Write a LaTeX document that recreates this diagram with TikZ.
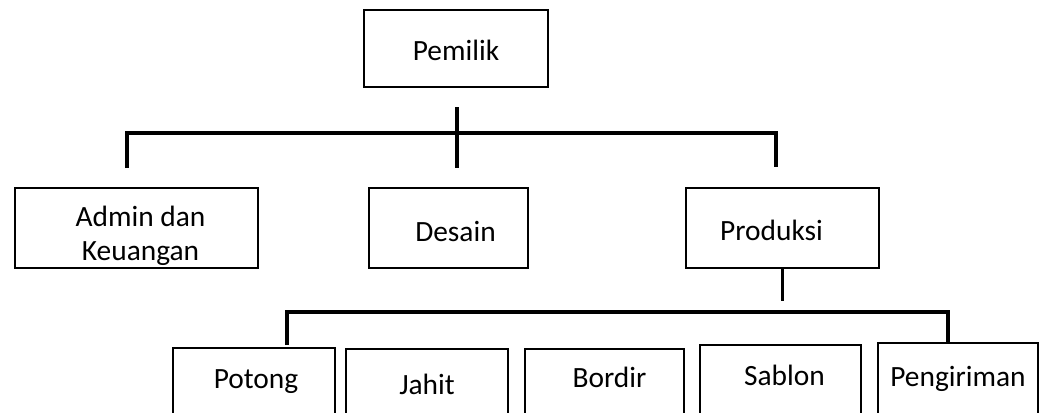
\documentclass[tikz,border=0pt]{standalone}
\usepackage{fontspec}
\setmainfont{Carlito}
\begin{document}
\begin{tikzpicture}[x=1pt,y=-1pt,
  box/.style={draw=black, line width=2.3pt, inner sep=0pt,
    font=\fontsize{29.4pt}{34pt}\selectfont},
  single/.style={text depth=8pt},
  nudge/.style={execute at begin node={\hspace{#1}}},
  link/.style={draw=black, line width=3.8pt}]
\useasboundingbox (0,0) rectangle (1048,412);
\clip (0,0) rectangle (1048,412);
\fill[white] (0,0) rectangle (1048,412);

% top level
\node[box, single, minimum width=184pt, minimum height=77pt, text height=31pt] (pem) at (456,48.5) {Pemilik};

% second level
\node[box, align=center, minimum width=243pt, minimum height=80pt] (adm) at (136.5,228)
  {\hspace*{8pt}\rule{0pt}{36pt}Admin dan\\\hspace*{8pt}Keuangan};
\node[box, single, nudge=14pt, minimum width=159pt, minimum height=80pt, text height=35pt] (des) at (448.5,228) {Desain};
\node[box, single, nudge=-22pt, minimum width=193pt, minimum height=80pt, text height=32pt] (prod) at (782.5,228) {Produksi};

% production units
\node[box, single, nudge=4pt, minimum width=162pt, minimum height=72pt, text height=16pt] (pot) at (254,384) {Potong};
\node[box, single, minimum width=162pt, minimum height=82pt, text height=16pt] (jah) at (427,390) {Jahit};
\node[box, single, nudge=10pt, minimum width=159pt, minimum height=68pt, text height=16pt] (bor) at (604.5,383) {Bordir};
\node[box, single, nudge=8pt, minimum width=161pt, minimum height=72pt, text height=16pt] (sab) at (780.5,381) {Sablon};
\node[box, single, minimum width=160pt, minimum height=78pt, text height=16pt] (pen) at (958,382) {Pengiriman};

% upper bus
\coordinate (pemOut) at (457,107);
\coordinate (desIn) at (457,168);
\coordinate (busL) at (127,133);
\coordinate (busR) at (776,133);
\coordinate (admIn) at (127,168);
\coordinate (prodIn) at (776,167);
\draw[link] (admIn) -- (busL) -- (busR) -- (prodIn);
\draw[link] (pemOut) -- (desIn);

% lower bus
\coordinate (prodOut) at (782.5,301);
\coordinate (busL2) at (287,312);
\coordinate (busR2) at (948,312);
\coordinate (potIn) at (287,345);
\coordinate (penIn) at (948,342);
\draw[link] (prod.south) -- (prodOut);
\draw[link] (potIn) -- (busL2) -- (busR2) -- (penIn);
\end{tikzpicture}
\end{document}
